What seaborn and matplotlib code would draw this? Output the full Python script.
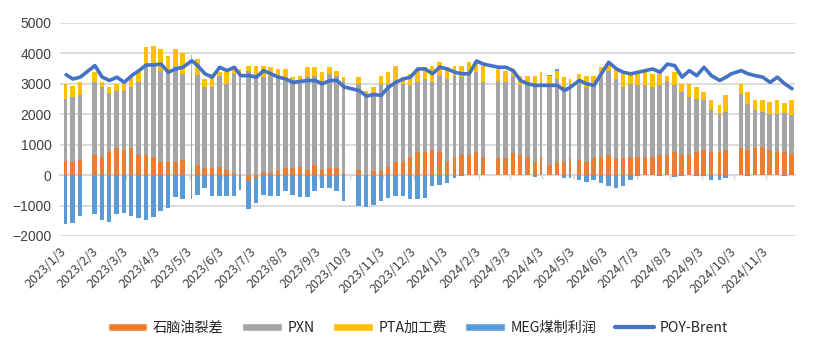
import numpy as np
import pandas as pd
import matplotlib
matplotlib.use('Agg')
import matplotlib.pyplot as plt
import matplotlib.dates as mdates
import matplotlib.patches as mpatches
from matplotlib.lines import Line2D
import seaborn as sns

# weekly values, week 0 = week of 2023-01-02; None = holiday week (no trading)
naphtha = [467, 445, 500, None, 660, 610, 770, 880, 830, 880,
           660, 660, 610, 445, 445, 445, 500, 340, 340, 230,
           230, 280, 175, 65, 0, -200, -100, 100, 65, 120,
           230, 230, 280, 175, 340, 175, 230, 230, 65, None,
           175, 10, 120, 120, 280, 445, 445, 610, 770, 770,
           830, 770, 445, 610, 660, 660, 770, 580, None, 555,
           555, 720, 660, 610, 445, 610, 340, 445, 445, 555,
           500, 445, 555, 610, 660, 555, 555, 610, 610, 610,
           610, 660, 660, 770, 660, 660, 770, 830, 770, 770,
           830, 935, 880, 830, 880, 935, 830, 770, 770, 660]
pxn = [2040, 2120, 2120, None, 2390, 2280, 1940, 1900, 1950, 2010,
       2390, 2990, 2990, 2990, 2990, 3155, 2830, 3060, 2960, 2660,
       2660, 2990, 2825, 3265, 3330, 3435, 3220, 3120, 3205, 3100,
       2880, 2820, 2830, 3045, 2930, 2935, 3100, 3040, 3045, None,
       2825, 2555, 2500, 2880, 2720, 2665, 2555, 2340, 2280, 2390,
       2220, 2500, 2715, 2660, 2560, 2610, 2610, 2470, None, 2555,
       2495, 2550, 2290, 2390, 2555, 2440, 2660, 2715, 2445, 2445,
       2500, 2445, 2395, 2610, 2775, 2605, 2335, 2390, 2340, 2340,
       2280, 2290, 2450, 2180, 2070, 1905, 1740, 1625, 1415, 1250,
       1245, 0, 1795, 1520, 1250, 1140, 1190, 1250, 1280, 1305]
pta = [490, 355, 430, None, 330, 160, 180, 220, 220, 330,
       330, 550, 630, 705, 485, 540, 700, 550, 515, 270,
       440, 110, 380, 160, 160, 165, 380, 380, 275, 270,
       380, 170, 160, 325, 275, 270, 215, 165, 110, None,
       220, 215, 270, 270, 380, 490, 220, 380, 440, 385,
       550, 440, 385, 330, 380, 440, 330, 550, None, 380,
       385, 220, 320, 270, 270, 330, 270, 275, 330, 150,
       330, 380, 320, 325, 215, 330, 440, 380, 380, 430,
       440, 380, 160, 430, 270, 435, 380, 275, 270, 270,
       545, 380, 325, 380, 325, 380, 380, 435, 330, 490]
meg = [-1600, -1565, -1350, None, -1290, -1490, -1530, -1290, -1240, -1350,
       -1400, -1460, -1380, -1185, -1075, -730, -770, -800, -640, -420,
       -700, -700, -700, -700, -480, -910, -800, -640, -700, -700,
       -530, -640, -730, -730, -530, -420, -420, -530, -860, None,
       -1020, -1050, -990, -860, -750, -700, -700, -800, -800, -750,
       -370, -340, -260, -100, -20, -10, 30, 0, None, 0,
       0, 0, 0, 0, -50, 0, 30, 40, -100, -100,
       -150, -230, -150, -260, -370, -420, -370, -150, -40, 0,
       0, -20, 0, -50, -30, 0, -40, -20, -150, -150,
       -100, 0, 0, -30, 0, 0, 0, 0, -20, 0]
poy_brent = [3300, 3160, 3220, None, 3600, 3220, 3110, 3220, 3050, 3270,
             3435, 3620, 3620, 3650, 3380, 3490, 3545, 3760, 3600, 3330,
             3220, 3545, 3435, 3545, 3270, 3270, 3220, 3435, 3330, 3220,
             3160, 3050, 3080, 3110, 3110, 3000, 3110, 3110, 2900, None,
             2780, 2600, 2650, 2620, 2890, 3050, 3160, 3220, 3490, 3490,
             3330, 3550, 3490, 3380, 3330, 3330, 3750, 3650, None, 3545,
             3545, 3435, 3110, 3000, 2950, 2950, 2950, 2950, 2780, 2890,
             3110, 3000, 2950, 3330, 3710, 3490, 3380, 3330, 3380, 3435,
             3490, 3380, 3650, 3600, 3220, 3435, 3270, 3545, 3270, 3110,
             3220, 3330, 3435, 3330, 3270, 3220, 3050, 3220, 3000, 2840]

# short trading weeks: week index -> (first trading weekday, trading days)
short_weeks = {0: (1, 4), 17: (3, 2), 24: (0, 3), 38: (0, 4), 53: (1, 4),
               57: (0, 4), 65: (0, 3), 69: (0, 2), 75: (1, 4), 89: (2, 3),
               91: (0, 1), 92: (1, 4)}

weeks = pd.date_range('2023-01-02', periods=len(naphtha), freq='7D')
start_day = np.zeros(len(weeks))
n_days = np.full(len(weeks), 5.0)
for i, (s, n) in short_weeks.items():
    start_day[i] = s
    n_days[i] = n
left = mdates.date2num(weeks) + start_day
width = n_days - 0.7

sns.set_style('white')
plt.rcParams['font.family'] = ['Noto Sans CJK SC', 'DejaVu Sans']
plt.rcParams['axes.unicode_minus'] = True

fig = plt.figure(figsize=(8.27, 3.54), dpi=100)
ax = fig.add_axes([60 / 827, 1 - 236 / 354, 735 / 827, 213 / 354])

series = [(naphtha, '石脑油裂差', '#ED7D31'),
          (pxn, 'PXN', '#A5A5A5'),
          (pta, 'PTA加工费', '#FFC000'),
          (meg, 'MEG煤制利润', '#5B9BD5')]

pos = np.zeros(len(weeks))
neg = np.zeros(len(weeks))
handles = []
for vals, name, color in series:
    v = np.array([np.nan if x is None else x for x in vals], dtype=float)
    m = ~np.isnan(v)
    bottom = np.where(v >= 0, pos, neg)
    ax.bar(left[m], v[m], width=width[m], bottom=bottom[m], align='edge',
           color=color, linewidth=0, zorder=2)
    vv = np.nan_to_num(v)
    pos += np.where(vv > 0, vv, 0)
    neg += np.where(vv < 0, vv, 0)
    handles.append(mpatches.Patch(facecolor=color, label=name))

line_df = pd.DataFrame({'x': left + n_days / 2,
                        'POY-Brent': [np.nan if x is None else x for x in poy_brent]}).dropna()
sns.lineplot(data=line_df, x='x', y='POY-Brent', ax=ax, color='#4472C4',
             linewidth=2.6, legend=False, zorder=3)
handles.append(Line2D([], [], color='#4472C4', linewidth=3, label='POY-Brent'))

ax.set_xlim(mdates.date2num(pd.Timestamp('2022-12-30 05:00')),
            mdates.date2num(pd.Timestamp('2024-11-30 06:00')))
ax.set_ylim(-2000, 5000)
ax.set_yticks(range(-2000, 5001, 1000))
ax.yaxis.grid(True, color='#d9d9d9', linewidth=1.3)
ax.xaxis.grid(False)
ax.set_axisbelow(True)
for s in ax.spines.values():
    s.set_visible(False)
ax.set_xlabel('')
ax.set_ylabel('')

tick_dates = pd.date_range('2023-01-01', '2024-11-01', freq='MS') + pd.Timedelta(days=2)
ticks = mdates.date2num(tick_dates)
ax.set_xticks(ticks)
ax.set_xticklabels([f'{d.year}/{d.month}/{d.day}' for d in tick_dates],
                   rotation=45, ha='right', va='center', rotation_mode='anchor',
                   fontsize=9, color='#404040')
ax.tick_params(axis='x', length=0, pad=10)
ax.tick_params(axis='y', length=0, pad=6, labelsize=10, labelcolor='#404040')
for lab in ax.get_yticklabels():
    lab.set_fontfamily(['Liberation Sans', 'DejaVu Sans'])

sec = ax.secondary_xaxis(2 / 7)
sec.set_xticks(ticks)
sec.set_xticklabels([])
sec.tick_params(length=3, color='#d0d0d0', width=1)
for s in sec.spines.values():
    s.set_color('#d9d9d9')
    s.set_linewidth(1.3)

fig.legend(handles=handles, loc='center', bbox_to_anchor=(418 / 827, 1 - 328 / 354),
           ncol=5, frameon=False, fontsize=10.2, handlelength=2.8, handleheight=0.5,
           handletextpad=0.4, columnspacing=1.3, labelcolor='#262626')

fig.savefig('out.png', dpi=100)
